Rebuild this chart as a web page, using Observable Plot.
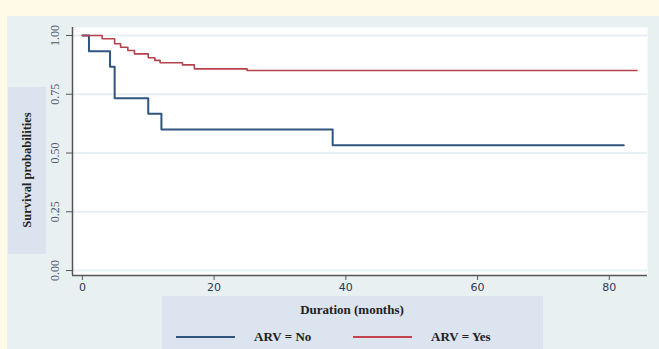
<!DOCTYPE html>
<html>
<head>
<meta charset="utf-8">
<script src="https://cdn.jsdelivr.net/npm/d3@7"></script>
<script src="https://cdn.jsdelivr.net/npm/@observablehq/plot@0.6"></script>
<style>
  html, body { margin: 0; padding: 0; background: #fffae8; }
  #wrap { position: relative; width: 659px; height: 349px; overflow: hidden; background: #fffae8; }
  .abs { position: absolute; }
  #panel { left: 7px; top: 16px; width: 652px; height: 333px; background: #e9f0f2; }
  #ybox { left: 8px; top: 87px; width: 38px; height: 167px; background: #dbe4ee; }
  #ytitle { left: 27px; top: 170px; transform: translate(-50%, -50%) rotate(-90deg); white-space: nowrap;
            font: bold 12.5px "Liberation Serif", serif; color: #222; }
  #legbox { left: 162px; top: 296px; width: 381px; height: 60px; background: #dbe4ef; }
  #xtitle { left: 352px; top: 310px; transform: translate(-50%, -50%); white-space: nowrap;
            font: bold 13px "Liberation Serif", serif; color: #222; }
  .sw { height: 2px; top: 336px; width: 59px; }
  .lt { top: 337px; transform: translateY(-50%); white-space: nowrap; font: bold 13px "Liberation Serif", serif; color: #222; }
  #chart { left: 0; top: 0; }
</style>
</head>
<body>
<div id="wrap">
  <div id="panel" class="abs"></div>
  <div id="ybox" class="abs"></div>
  <div id="ytitle" class="abs">Survival probabilities</div>
  <div id="legbox" class="abs"></div>
  <div id="xtitle" class="abs">Duration (months)</div>
  <div class="abs sw" style="left:176px; background:#2f557f;"></div>
  <div class="abs lt" style="left:254px;">ARV = No</div>
  <div class="abs sw" style="left:353px; background:#c2434c;"></div>
  <div class="abs lt" style="left:431px;">ARV = Yes</div>
  <div id="chart" class="abs"></div>
</div>
<script>
// ARV = No
const noTime = [0, 1, 4.2, 4.9, 10, 12, 38, 82.2];
const noSurv = [1, 0.933, 0.867, 0.733, 0.667, 0.6, 0.533, 0.533];
// ARV = Yes
const yesTime = [0, 3, 4.9, 5.8, 6.9, 7.9, 10, 11, 11.8, 15.2, 17, 25, 84.2];
const yesSurv = [1, 0.986, 0.965, 0.95, 0.936, 0.922, 0.905, 0.894, 0.884, 0.875, 0.858, 0.851, 0.851];
const groups = ["ARV = No", "ARV = Yes"];
const xTicks = [0, 20, 40, 60, 80];
const yTicks = [0, 0.25, 0.5, 0.75, 1];

const rows = [
  ...noTime.map((t, i) => ({group: groups[0], t, s: noSurv[i]})),
  ...yesTime.map((t, i) => ({group: groups[1], t, s: yesSurv[i]}))
];
const xDom = [-1.5, 85.8];
const yDom = [-0.021, 1.034];

const chart = Plot.plot({
  width: 659,
  height: 349,
  marginLeft: 72,
  marginRight: 12,
  marginTop: 27,
  marginBottom: 74,
  style: {background: "transparent", overflow: "visible"},
  x: {domain: xDom},
  y: {domain: yDom},
  color: {domain: groups, range: ["#2f557f", "#b8424b"]},
  marks: [
    Plot.frame({fill: "white", stroke: null}),
    Plot.gridY(yTicks, {stroke: "#e6eff1", strokeOpacity: 1, strokeWidth: 2}),
    Plot.line(rows.filter(d => d.group === groups[0]), {x: "t", y: "s", stroke: "group", curve: "step-after", strokeWidth: 2}),
    Plot.line(rows.filter(d => d.group === groups[1]), {x: "t", y: "s", stroke: "group", curve: "step-after", strokeWidth: 1.6}),
    Plot.ruleX([xDom[0]], {stroke: "#555", strokeWidth: 1.5}),
    Plot.ruleY([yDom[0]], {stroke: "#555", strokeWidth: 1.5}),
    Plot.axisX(xTicks, {label: null, tickSize: 5, tickPadding: 3, stroke: "#555",
      fontSize: 11, fontFamily: "DejaVu Sans", fill: "#2b3a55"}),
    Plot.axisY(yTicks, {label: null, tickSize: 6, tickPadding: 8, stroke: "#555",
      tickFormat: d3.format(".2f"), tickRotate: -90,
      fontSize: 12, fontFamily: "Liberation Serif", fill: "#4a5a6a"})
  ]
});
document.getElementById("chart").appendChild(chart);
</script>
</body>
</html>
